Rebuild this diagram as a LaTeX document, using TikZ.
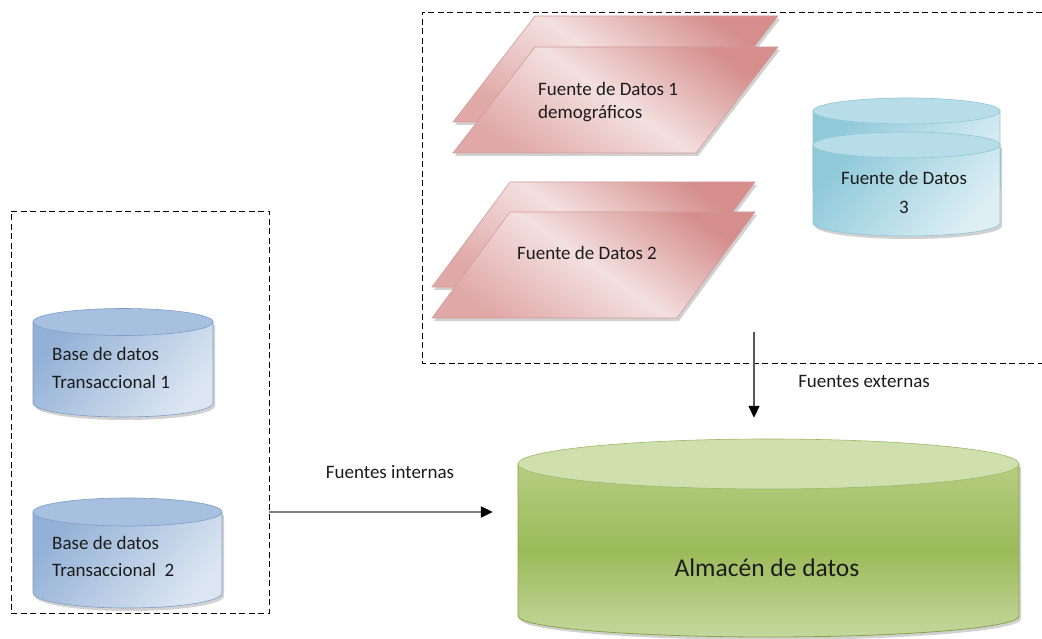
\documentclass[tikz,border=0pt]{standalone}
\usepackage{fontspec}
\setmainfont{Carlito}
\usetikzlibrary{arrows.meta}
\definecolor{pinkD}{HTML}{D58E8C}
\definecolor{pinkL}{HTML}{F3E0DF}
\definecolor{pinkM}{HTML}{E0A9A8}
\definecolor{pinkE}{HTML}{D29C9B}
\definecolor{cyanD}{HTML}{8FC9DA}
\definecolor{cyanL}{HTML}{DDEFF4}
\definecolor{cyanT}{HTML}{B7DEE8}
\definecolor{cyanE}{HTML}{8EC6D6}
\definecolor{blueD}{HTML}{93B1D6}
\definecolor{blueL}{HTML}{DCE6F2}
\definecolor{blueT}{HTML}{A8C0E0}
\definecolor{blueE}{HTML}{7E9DC8}
\definecolor{grnT}{HTML}{CFDFAE}
\definecolor{grnA}{HTML}{B5CD82}
\definecolor{grnM}{HTML}{9BBB59}
\definecolor{grnB}{HTML}{C4D79E}
\definecolor{grnE}{HTML}{86A645}
\definecolor{txt}{HTML}{1C1C1C}
\begin{document}
\begin{tikzpicture}[x=1pt,y=-1pt,
  dashbox/.style={draw=black, line width=0.9pt, dash pattern=on 6pt off 3.5pt},
  pinkshape/.style={top color=pinkD, bottom color=pinkM, middle color=pinkL, shading angle=-35, draw=pinkE, line width=0.6pt},
  cyanbody/.style={top color=cyanD, bottom color=cyanL, shading angle=50, draw=cyanE, line width=0.6pt},
  cyantop/.style={fill=cyanT, draw=cyanE, line width=0.6pt},
  bluebody/.style={top color=blueD, bottom color=blueL, shading angle=50, draw=blueE, line width=0.6pt},
  bluetop/.style={fill=blueT, draw=blueE, line width=0.6pt},
  grnbody/.style={top color=grnA, bottom color=grnB, middle color=grnM, draw=grnE, line width=0.8pt},
  grntop/.style={fill=grnT, draw=grnE!80, line width=0.6pt},
  shadow/.style={fill=black, opacity=0.18, xshift=2pt, yshift=-3pt},
  lbl/.style={inner sep=0pt, text=txt, font=\fontsize{19}{23}\selectfont},
  arrint/.style={draw=black!50, line width=2.2pt, -{Triangle[length=12pt,width=11pt,color=black]}},
  arrext/.style={draw=black!65, line width=1.5pt, -{Triangle[length=12pt,width=11pt,color=black]}}
]
\useasboundingbox (0,0) rectangle (1042,639);
\fill[white] (0,0) rectangle (1042,639);

% ---------- dashed groups ----------
\node[dashbox, minimum width=258pt, minimum height=402pt, inner sep=0pt] (intbox) at (140,412) {};
\draw[dashbox] (1042,12) -- (422,12) -- (422,363) -- (1042,363);

% ---------- pink parallelograms ----------
\fill[shadow] (535,16) -- (778,16) -- (696,122) -- (453,122) -- cycle;
\shadedraw[pinkshape] (535,16) -- (778,16) -- (696,122) -- (453,122) -- cycle;
\fill[shadow] (535,47) -- (778,47) -- (696,153) -- (453,153) -- cycle;
\shadedraw[pinkshape] (535,47) -- (778,47) -- (696,153) -- (453,153) -- cycle;

\fill[shadow] (510,182) -- (755,182) -- (677,287) -- (432,287) -- cycle;
\shadedraw[pinkshape] (510,182) -- (755,182) -- (677,287) -- (432,287) -- cycle;
\fill[shadow] (510,212) -- (755,212) -- (677,318) -- (432,318) -- cycle;
\shadedraw[pinkshape] (510,212) -- (755,212) -- (677,318) -- (432,318) -- cycle;

% ---------- cyan stacked cylinder ----------
\shadedraw[cyanbody] (813,111) -- (813,189) arc[start angle=180,end angle=0,x radius=93.5,y radius=13] -- (1000,111) -- cycle;
\filldraw[cyantop] (906.5,111) ellipse[x radius=93.5, y radius=13];
\fill[shadow] (813,145) -- (813,223) arc[start angle=180,end angle=0,x radius=93.5,y radius=13] -- (1000,145) -- cycle;
\shadedraw[cyanbody] (813,145) -- (813,223) arc[start angle=180,end angle=0,x radius=93.5,y radius=13] -- (1000,145) -- cycle;
\filldraw[cyantop] (906.5,145) ellipse[x radius=93.5, y radius=13];

% ---------- blue cylinders ----------
\fill[shadow] (33,322) -- (33,403) arc[start angle=180,end angle=0,x radius=90,y radius=14] -- (213,322) -- cycle;
\shadedraw[bluebody] (33,322) -- (33,403) arc[start angle=180,end angle=0,x radius=90,y radius=14] -- (213,322) -- cycle;
\filldraw[bluetop] (123,322) ellipse[x radius=90, y radius=13.5];

\fill[shadow] (33,512) -- (33,593) arc[start angle=180,end angle=0,x radius=94.5,y radius=15] -- (222,512) -- cycle;
\shadedraw[bluebody] (33,512) -- (33,593) arc[start angle=180,end angle=0,x radius=94.5,y radius=15] -- (222,512) -- cycle;
\filldraw[bluetop] (127.5,512) ellipse[x radius=94.5, y radius=14];

% ---------- green data warehouse ----------
\fill[shadow] (518,464) -- (518,616) arc[start angle=180,end angle=0,x radius=250.5,y radius=21] -- (1019,464) -- cycle;
\shadedraw[grnbody] (518,464) -- (518,616) arc[start angle=180,end angle=0,x radius=250.5,y radius=21] -- (1019,464) -- cycle;
\filldraw[grntop] (768.5,464) ellipse[x radius=250.5, y radius=25];
\node[inner sep=0pt, minimum width=501pt, minimum height=179pt] (almacen) at (768.5,528.5) {};

% ---------- labels ----------
\node[lbl, anchor=west, align=left] (fd1) at (538,102) {Fuente de Datos 1\\demográficos};
\node[lbl] (fd2) at (587,253) {Fuente de Datos 2};
\node[lbl, align=center, font=\fontsize{19}{29}\selectfont] (fd3) at (904,192.5) {Fuente de Datos\\3};
\node[lbl, anchor=west, align=left, font=\fontsize{19}{28}\selectfont] (bd1) at (52,368) {Base de datos\\Transaccional 1};
\node[lbl, anchor=west, align=left, font=\fontsize{19}{27}\selectfont] (bd2) at (52,556.5) {Base de datos\\Transaccional\ \ 2};
\node[lbl] (extlbl) at (864,381) {Fuentes externas};
\node[lbl] (intlbl) at (390,472) {Fuentes internas};
\node[lbl, font=\fontsize{25.5}{30}\selectfont] (almlbl) at (767,568) {Almacén de datos};

% ---------- connectors ----------
\coordinate (inY) at (0,512);
\draw[arrint, shorten >=25pt] (intbox.east |- inY) -- (almacen.west |- inY);
\coordinate (extTop) at (754,332);
\draw[arrext, shorten >=21pt] (extTop) -- (extTop |- almacen.north);
\end{tikzpicture}
\end{document}
